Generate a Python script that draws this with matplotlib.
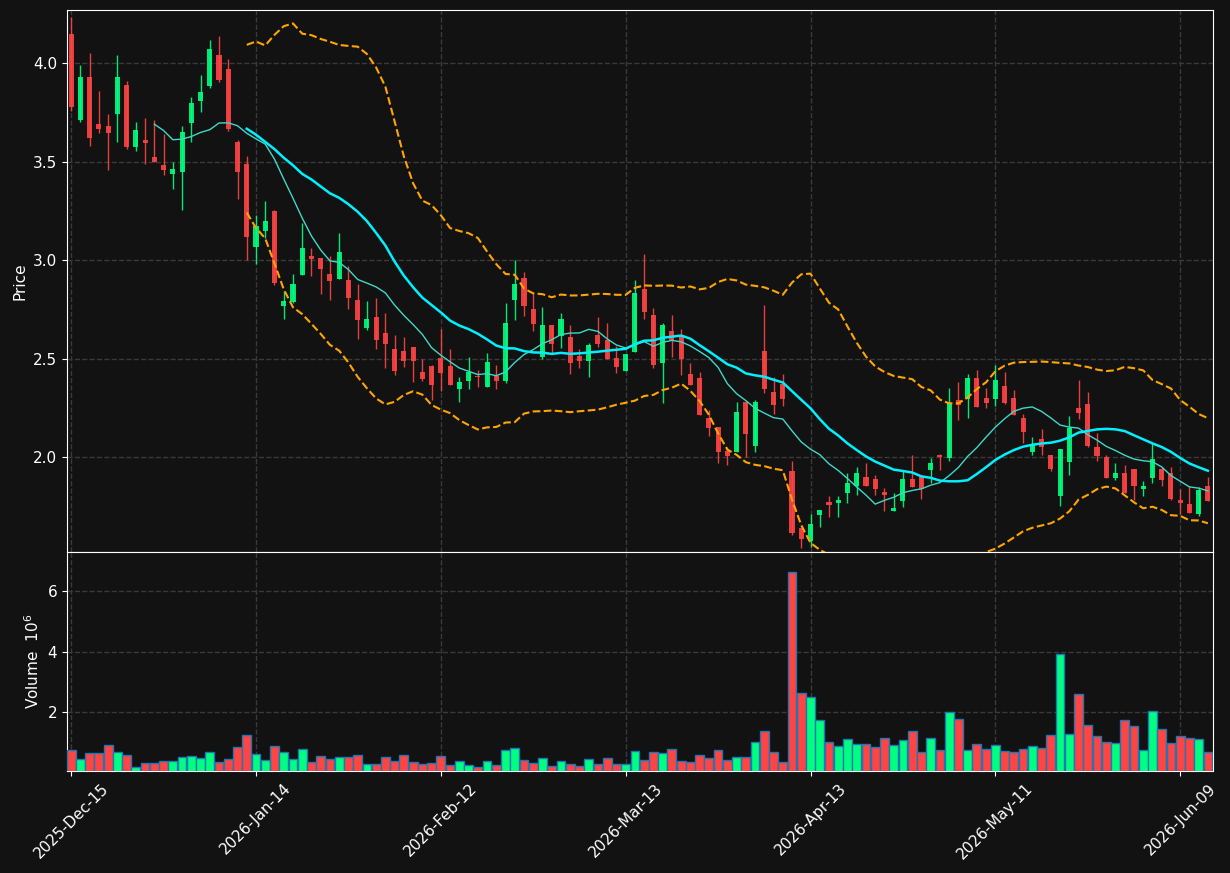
import numpy as np
import pandas as pd
import matplotlib
matplotlib.use("Agg")
import matplotlib.pyplot as plt

# OHLC + volume (volume in millions), one entry per trading day
opens = [4.15, 3.71, 3.93, 3.69, 3.68, 3.74, 3.89, 3.575, 3.61, 3.523,
         3.482, 3.438, 3.448, 3.697, 3.81, 3.885, 4.04, 3.97, 3.60, 3.49,
         3.067, 3.15, 3.25, 2.768, 2.788, 2.925, 3.02, 3.01, 2.929, 2.905,
         2.898, 2.80, 2.656, 2.71, 2.629, 2.548, 2.538, 2.558, 2.431, 2.462,
         2.503, 2.462, 2.347, 2.387, 2.412, 2.357, 2.411, 2.386, 2.798, 2.909,
         2.751, 2.509, 2.67, 2.616, 2.609, 2.514, 2.489, 2.619, 2.594, 2.503,
         2.438, 2.535, 2.851, 2.721, 2.479, 2.64, 2.619, 2.421, 2.401, 2.198,
         2.152, 2.03, 2.027, 2.279, 2.057, 2.538, 2.33, 2.371, 1.929, 1.638,
         1.575, 1.707, 1.772, 1.766, 1.817, 1.854, 1.898, 1.888, 1.822, 1.728,
         1.777, 1.888, 1.898, 1.936, 2.008, 1.996, 2.289, 2.296, 2.401, 2.30,
         2.296, 2.36, 2.30, 2.198, 2.027, 2.09, 2.008, 1.80, 1.976, 2.249,
         2.269, 2.051, 2.0, 1.895, 1.917, 1.937, 1.839, 1.895, 1.939, 1.917,
         1.78, 1.761, 1.709, 1.853]
closes = [3.78, 3.93, 3.62, 3.667, 3.646, 3.93, 3.575, 3.66, 3.595, 3.50,
          3.458, 3.462, 3.65, 3.80, 3.853, 4.07, 3.915, 3.667, 3.448, 3.118,
          3.173, 3.198, 2.885, 2.792, 2.878, 3.061, 3.007, 2.956, 2.895, 3.041,
          2.808, 2.697, 2.70, 2.596, 2.575, 2.438, 2.489, 2.489, 2.396, 2.365,
          2.426, 2.367, 2.381, 2.431, 2.408, 2.482, 2.386, 2.68, 2.878, 2.768,
          2.677, 2.67, 2.575, 2.70, 2.479, 2.489, 2.569, 2.575, 2.499, 2.458,
          2.523, 2.831, 2.738, 2.469, 2.669, 2.594, 2.497, 2.367, 2.215, 2.149,
          2.027, 2.005, 2.228, 2.118, 2.279, 2.347, 2.266, 2.296, 1.616, 1.585,
          1.66, 1.731, 1.758, 1.782, 1.868, 1.919, 1.854, 1.838, 1.809, 1.741,
          1.888, 1.848, 1.839, 1.968, 1.998, 2.276, 2.266, 2.401, 2.256, 2.276,
          2.391, 2.276, 2.215, 2.129, 2.059, 2.049, 1.937, 2.039, 2.15, 2.225,
          2.056, 2.005, 1.895, 1.917, 1.819, 1.854, 1.854, 1.99, 1.885, 1.787,
          1.768, 1.717, 1.831, 1.777]
highs = [4.235, 3.99, 4.05, 3.86, 3.74, 4.04, 3.91, 3.70, 3.72, 3.71,
         3.64, 3.50, 3.68, 3.83, 3.94, 4.12, 4.14, 4.02, 3.61, 3.53,
         3.227, 3.30, 3.257, 2.843, 2.93, 3.19, 3.06, 3.01, 3.02, 3.14,
         2.97, 2.877, 2.79, 2.81, 2.73, 2.618, 2.61, 2.558, 2.50, 2.47,
         2.65, 2.547, 2.408, 2.51, 2.44, 2.526, 2.47, 2.78, 3.0, 2.94,
         2.831, 2.76, 2.67, 2.731, 2.67, 2.547, 2.58, 2.71, 2.68, 2.565,
         2.523, 2.897, 3.03, 2.758, 2.68, 2.72, 2.648, 2.479, 2.431, 2.239,
         2.155, 2.05, 2.278, 2.28, 2.289, 2.77, 2.408, 2.421, 1.978, 1.64,
         1.71, 1.731, 1.80, 1.80, 1.917, 1.948, 1.968, 1.907, 1.843, 1.82,
         1.929, 2.008, 1.90, 1.996, 2.018, 2.349, 2.379, 2.42, 2.442, 2.35,
         2.47, 2.43, 2.34, 2.22, 2.10, 2.14, 2.01, 2.04, 2.207, 2.389,
         2.33, 2.12, 2.008, 1.968, 1.96, 1.94, 1.88, 2.07, 1.95, 1.948,
         1.84, 1.853, 1.85, 1.897]
lows = [3.756, 3.70, 3.58, 3.645, 3.46, 3.60, 3.565, 3.555, 3.49, 3.499,
        3.43, 3.36, 3.257, 3.60, 3.75, 3.875, 3.905, 3.657, 3.31, 3.0,
        2.978, 3.11, 2.875, 2.70, 2.78, 2.925, 2.917, 2.83, 2.80, 2.905,
        2.75, 2.597, 2.647, 2.547, 2.45, 2.418, 2.458, 2.38, 2.386, 2.29,
        2.337, 2.367, 2.278, 2.347, 2.357, 2.357, 2.347, 2.378, 2.697, 2.717,
        2.638, 2.50, 2.53, 2.555, 2.42, 2.45, 2.408, 2.56, 2.499, 2.428,
        2.438, 2.535, 2.70, 2.452, 2.276, 2.509, 2.418, 2.367, 2.215, 2.108,
        1.968, 1.958, 2.027, 1.998, 2.027, 2.327, 2.217, 2.26, 1.605, 1.536,
        1.545, 1.646, 1.697, 1.697, 1.768, 1.809, 1.854, 1.809, 1.728, 1.727,
        1.748, 1.848, 1.788, 1.870, 1.936, 1.978, 2.19, 2.196, 2.256, 2.247,
        2.259, 2.27, 2.215, 2.07, 2.008, 2.008, 1.927, 1.75, 1.907, 2.194,
        2.05, 1.978, 1.895, 1.885, 1.819, 1.782, 1.80, 1.866, 1.851, 1.78,
        1.709, 1.717, 1.70, 1.777]
volumes = [0.733, 0.433, 0.633, 0.633, 0.90, 0.667, 0.567, 0.167, 0.30, 0.30,
           0.367, 0.367, 0.50, 0.533, 0.467, 0.667, 0.333, 0.433, 0.833, 1.233,
           0.60, 0.40, 0.867, 0.667, 0.433, 0.767, 0.333, 0.533, 0.433, 0.50,
           0.50, 0.567, 0.267, 0.267, 0.50, 0.367, 0.567, 0.333, 0.267, 0.30,
           0.533, 0.233, 0.367, 0.233, 0.19, 0.367, 0.233, 0.733, 0.80, 0.40,
           0.30, 0.467, 0.20, 0.367, 0.267, 0.20, 0.433, 0.267, 0.467, 0.267,
           0.267, 0.70, 0.40, 0.667, 0.633, 0.767, 0.367, 0.333, 0.567, 0.467,
           0.733, 0.40, 0.50, 0.50, 1.0, 1.367, 0.667, 0.333, 6.633, 2.633,
           2.50, 1.733, 1.0, 0.867, 1.10, 0.933, 0.933, 0.833, 1.133, 0.90,
           1.067, 1.367, 0.667, 1.133, 0.733, 2.0, 1.767, 0.733, 0.933, 0.767,
           0.90, 0.70, 0.667, 0.767, 0.867, 0.80, 1.233, 3.933, 1.267, 2.60,
           1.567, 1.20, 1.0, 0.967, 1.733, 1.533, 0.733, 2.033, 1.433, 0.967,
           1.20, 1.133, 1.10, 0.667]

tick_labels = ['2025-Dec-15', '2026-Jan-14', '2026-Feb-12', '2026-Mar-13',
               '2026-Apr-13', '2026-May-11', '2026-Jun-09']

bg = '#121212'
up_col = '#00ff80'
down_col = '#ff4444'
grid_col = '#3a3a3a'

o = np.array(opens); c = np.array(closes)
h = np.array(highs); l = np.array(lows)
v = np.array(volumes)
x = np.arange(len(c))
is_up = c >= o
cols = np.where(is_up, up_col, down_col)

close_s = pd.Series(c)
ma10 = close_s.rolling(10).mean()
ma20 = close_s.rolling(20).mean()
sd20 = close_s.rolling(20).std(ddof=0)
upper = ma20 + 2 * sd20
lower = ma20 - 2 * sd20

fig = plt.figure(figsize=(12.3, 8.73), dpi=100, facecolor=bg)
ax = fig.add_axes([67/1230, 1 - 552/873, 1146/1230, 542/873])
axv = fig.add_axes([67/1230, 1 - 771/873, 1146/1230, 219/873], sharex=ax)

for a in (ax, axv):
    a.set_facecolor(bg)
    for s in a.spines.values():
        s.set_color('white')
    a.tick_params(colors='white', labelsize=11)
    a.grid(True, color=grid_col, linestyle='--', linewidth=1)
    a.set_axisbelow(True)

# candles
ax.vlines(x, l, h, colors=cols, linewidth=1, alpha=0.9, zorder=2)
body_h = np.maximum(np.abs(c - o), 0.006)
ax.bar(x, body_h, bottom=np.minimum(o, c), width=0.55, color=cols,
       alpha=0.9, linewidth=0, zorder=3)

# moving averages and bands
ax.plot(x, ma10, color='#40d8c8', linewidth=1, zorder=4)
ax.plot(x, ma20, color='#00f0ff', linewidth=1.8, zorder=4)
ax.plot(x, upper, color='orange', linestyle='--', linewidth=1.5, zorder=4)
ax.plot(x, lower, color='orange', linestyle='--', linewidth=1.5, zorder=4)

ax.set_ylim(1.518, 4.27)
ax.set_yticks([2.0, 2.5, 3.0, 3.5, 4.0])
ax.set_ylabel('Price', color='white', fontsize=11)
ax.tick_params(axis='x', bottom=False, labelbottom=False)

# volume
axv.bar(x, v, width=0.95, color=cols, edgecolor='#1f77b4', linewidth=1, zorder=3)
axv.set_ylim(0.3 * v.min(), 1.1 * v.max())
axv.set_yticks([2, 4, 6])
axv.set_ylabel('Volume  $10^{6}$', color='white', fontsize=11)

axv.set_xlim(-0.45, len(c) - 0.45)
axv.set_xticks(np.arange(0, len(c), 20))
axv.set_xticklabels(tick_labels, rotation=45, ha='center', color='white', fontsize=11)

fig.savefig('out.png', dpi=100, facecolor=bg)
